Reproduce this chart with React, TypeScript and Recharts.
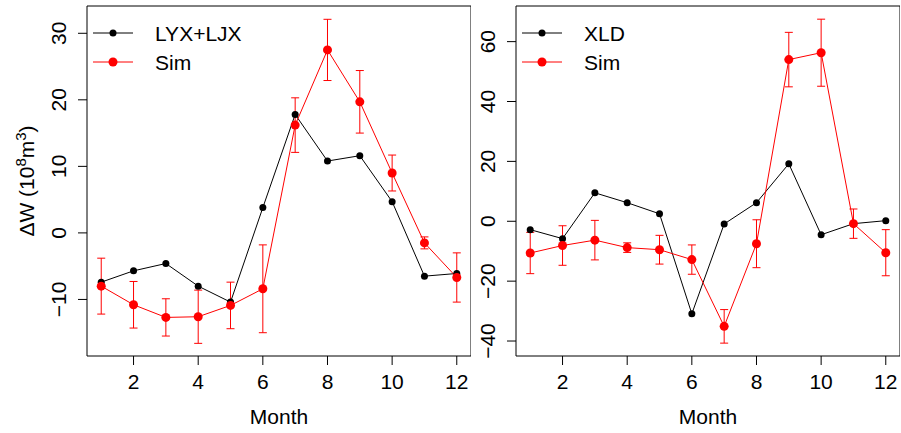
import { ErrorBar, Legend, Line, LineChart, ReferenceArea, XAxis, YAxis } from "recharts";

const months = [1, 2, 3, 4, 5, 6, 7, 8, 9, 10, 11, 12];
const lyxLjx = [-7.4, -5.7, -4.6, -8.0, -10.4, 3.8, 17.8, 10.8, 11.6, 4.7, -6.5, -6.1];
const simLeft = [-8.0, -10.8, -12.7, -12.6, -10.9, -8.4, 16.2, 27.5, 19.7, 9.0, -1.5, -6.7];
const simLeftErr = [4.2, 3.5, 2.8, 4.0, 3.5, 6.6, 4.1, 4.6, 4.7, 2.7, 0.9, 3.7];
const xld = [-2.8, -5.8, 9.5, 6.2, 2.5, -30.9, -0.9, 6.2, 19.2, -4.5, -0.8, 0.2];
const simRight = [-10.6, -8.1, -6.3, -8.8, -9.5, -12.8, -35.1, -7.5, 54.0, 56.3, -0.8, -10.5];
const simRightErr = [6.9, 6.6, 6.6, 1.6, 4.8, 4.9, 5.6, 8.0, 9.1, 11.2, 4.9, 7.7];
const monthTicks = [2, 4, 6, 8, 10, 12];
const leftTicks = [-10, 0, 10, 20, 30];
const rightTicks = [-40, -20, 0, 20, 40, 60];

const FONT = "'Liberation Sans', Arial, Helvetica, sans-serif";
const FS = 21;
const RED = "#ff0000";
const X_DOMAIN: [number, number] = [0.56, 12.44];

// R prints a real minus sign on the axes
const fmt = (v: number) => String(v).replace("-", "\u2212");

const XTick = ({ x, y, payload }: any) => (
  <text x={x} y={y + 24} textAnchor="middle" fontSize={FS} fontFamily={FONT} fill="#000">
    {fmt(payload.value)}
  </text>
);

const YTick = ({ x, y, payload }: any) => (
  <text
    x={x - 12}
    y={y}
    transform={`rotate(-90 ${x - 12} ${y})`}
    textAnchor="middle"
    fontSize={FS}
    fontFamily={FONT}
    fill="#000"
  >
    {fmt(payload.value)}
  </text>
);

const LegendBox = ({ name }: { name: string }) => (
  <svg width={200} height={80} style={{ display: "block" }}>
    <line x1={6} x2={46} y1={33} y2={33} stroke="#000" strokeWidth={1} />
    <circle cx={26} cy={33} r={3.5} fill="#000" />
    <text x={68} y={41} fontSize={FS} fontFamily={FONT} fill="#000">{name}</text>
    <line x1={6} x2={46} y1={62} y2={62} stroke={RED} strokeWidth={1} />
    <circle cx={26} cy={62} r={4.5} fill={RED} />
    <text x={68} y={70} fontSize={FS} fontFamily={FONT} fill="#000">Sim</text>
  </svg>
);

type PanelProps = {
  left: number;
  obs: number[];
  obsName: string;
  sim: number[];
  simErr: number[];
  yDomain: [number, number];
  yTicks: number[];
  yLabel: boolean;
};

const Panel = ({ left, obs, obsName, sim, simErr, yDomain, yTicks, yLabel }: PanelProps) => {
  const data = months.map((m, i) => ({ month: m, obs: obs[i], sim: sim[i], simErr: simErr[i] }));
  return (
    <div style={{ position: "absolute", left, top: 0 }}>
      <LineChart width={471} height={433} data={data} margin={{ top: 6, right: 0, bottom: 0, left: 0 }}>
        <XAxis
          dataKey="month"
          type="number"
          domain={X_DOMAIN}
          ticks={monthTicks}
          allowDataOverflow
          height={77}
          axisLine={false}
          tickSize={9}
          tickMargin={0}
          tickLine={{ stroke: "#000" }}
          tick={XTick}
          label={{
            content: ({ viewBox }: any) => (
              <text
                x={viewBox.x + viewBox.width / 2}
                y={424}
                textAnchor="middle"
                fontSize={FS}
                fontFamily={FONT}
                fill="#000"
              >
                Month
              </text>
            ),
          }}
        />
        <YAxis
          type="number"
          domain={yDomain}
          ticks={yTicks}
          allowDataOverflow
          width={87}
          axisLine={false}
          tickSize={9}
          tickMargin={0}
          tickLine={{ stroke: "#000" }}
          tick={YTick}
          label={
            yLabel
              ? {
                  content: () => (
                    <text
                      x={34}
                      y={181}
                      transform="rotate(-90 34 181)"
                      textAnchor="middle"
                      fontSize={FS}
                      fontFamily={FONT}
                      fill="#000"
                    >
                      ΔW (10
                      <tspan fontSize={15} dy={-8}>8</tspan>
                      <tspan dy={8}>m</tspan>
                      <tspan fontSize={15} dy={-8}>3</tspan>
                      <tspan dy={8}>)</tspan>
                    </text>
                  ),
                }
              : undefined
          }
        />
        <ReferenceArea
          x1={X_DOMAIN[0]}
          x2={X_DOMAIN[1]}
          y1={yDomain[0]}
          y2={yDomain[1]}
          fill="none"
          fillOpacity={0}
          stroke="#000"
          strokeWidth={1}
          ifOverflow="visible"
        />
        <Line
          dataKey="obs"
          stroke="#000"
          strokeWidth={1}
          dot={{ r: 3.5, fill: "#000", stroke: "none" }}
          activeDot={false}
          isAnimationActive={false}
        />
        <Line
          dataKey="sim"
          stroke={RED}
          strokeWidth={1}
          dot={{ r: 4.5, fill: RED, stroke: "none" }}
          activeDot={false}
          isAnimationActive={false}
        >
          <ErrorBar dataKey="simErr" direction="y" width={4} stroke={RED} strokeWidth={1} isAnimationActive={false} />
        </Line>
        <Legend
          layout="vertical"
          align="center"
          verticalAlign="middle"
          wrapperStyle={{ left: 87, top: 0, width: 200, height: 80 }}
          content={() => <LegendBox name={obsName} />}
        />
      </LineChart>
    </div>
  );
};

export default function App() {
  return (
    <div style={{ position: "absolute", left: 0, top: 0, width: 901, height: 433, background: "#fff" }}>
      <Panel
        left={0}
        obs={lyxLjx}
        obsName="LYX+LJX"
        sim={simLeft}
        simErr={simLeftErr}
        yDomain={[-18.5, 34.1]}
        yTicks={leftTicks}
        yLabel
      />
      <Panel
        left={429}
        obs={xld}
        obsName="XLD"
        sim={simRight}
        simErr={simRightErr}
        yDomain={[-45, 71.9]}
        yTicks={rightTicks}
        yLabel={false}
      />
    </div>
  );
}
